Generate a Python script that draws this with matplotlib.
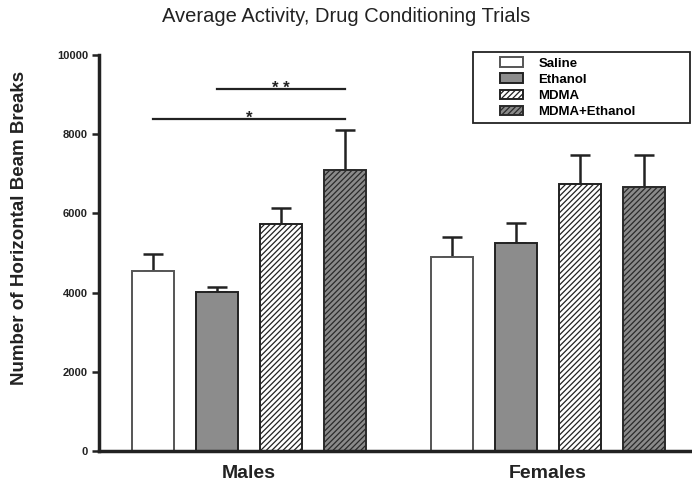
import numpy as np
import matplotlib
matplotlib.use('Agg')
import matplotlib.pyplot as plt
from matplotlib.patches import Rectangle
from matplotlib.legend_handler import HandlerPatch

groups = ['Males', 'Females']
conditions = ['Saline', 'Ethanol', 'MDMA', 'MDMA+Ethanol']
males_mean = [4550, 4010, 5740, 7100]
males_sem = [430, 140, 400, 1010]
females_mean = [4890, 5260, 6740, 6670]
females_sem = [510, 490, 740, 810]
# significance bars within Males: (from condition, to condition, height, label)
sig_from = [1, 0]
sig_to = [3, 3]
sig_height = [9130, 8390]
sig_label = ['* *', '*']

plt.rcParams['font.family'] = ['Liberation Sans', 'DejaVu Sans']
plt.rcParams['hatch.linewidth'] = 0.9

face = ['white', '#8c8c8c', 'white', '#8a8a8a']
hatch = [None, None, '//////', '//////']
hcol = ['#555555', '#222222', '#222222', '#2a2a2a']


def small_box(legend, orig_handle, xdescent, ydescent, width, height, fontsize):
    # legend swatch sits at the right end of the handle area
    return Rectangle((-xdescent + 0.49 * width, -ydescent), 0.51 * width, height)


fig = plt.figure(figsize=(6.92, 4.83), dpi=100)
ax = fig.add_axes([99 / 692, 32 / 483, 1 - 99 / 692, (451 - 55) / 483])

width = 0.66
group_gap = 1.67
means = [males_mean, females_mean]
sems = [males_sem, females_sem]
centers = []
handles = []
for g in range(len(groups)):
    xs = np.arange(len(conditions)) + g * (len(conditions) - 1 + group_gap)
    centers.append(xs.mean())
    for i, cond in enumerate(conditions):
        b = ax.bar(xs[i], means[g][i], width, color=face[i], edgecolor=hcol[i],
                   linewidth=1.4, hatch=hatch[i], zorder=2)
        if g == 0:
            handles.append(b[0])
        ax.errorbar(xs[i], means[g][i], yerr=[[0], [sems[g][i]]], fmt='none',
                    ecolor='#222222', elinewidth=1.8, capsize=7.5, capthick=1.8, zorder=1)
    if g == 0:
        male_x = xs

for a, b, h, lab in zip(sig_from, sig_to, sig_height, sig_label):
    ax.plot([male_x[a], male_x[b]], [h, h], color='#222222', lw=1.6, clip_on=False)
    ax.text((male_x[a] + male_x[b]) / 2, h - 170, lab, ha='center', va='bottom',
            fontsize=12, fontweight='bold', color='#222222')

ax.set_ylim(0, 10000)
ax.set_xlim(-0.84, 8.42)
ax.set_yticks([0, 2000, 4000, 6000, 8000, 10000])
ax.tick_params(axis='y', labelsize=8, width=1.8, length=5, pad=3, colors='#222222')
for t in ax.get_yticklabels():
    t.set_fontweight('bold')
ax.set_xticks(centers)
ax.set_xticklabels(groups, fontsize=14, fontweight='bold')
ax.tick_params(axis='x', length=0, pad=10, colors='#222222')
for s in ['top', 'right']:
    ax.spines[s].set_visible(False)
for s in ['left', 'bottom']:
    ax.spines[s].set_linewidth(2.5)
    ax.spines[s].set_color('#222222')

leg = ax.legend(handles, conditions, loc='upper left', mode='expand',
                bbox_to_anchor=(473 / 692, 1 - 128 / 483, 217 / 692, 76 / 483),
                bbox_transform=fig.transFigure, fancybox=False, framealpha=1,
                edgecolor='#222222', prop={'size': 9.5, 'weight': 'bold'},
                handlelength=3.4, handleheight=0.7, handletextpad=1.15,
                labelspacing=0.3, borderpad=0.4, borderaxespad=0,
                handler_map={Rectangle: HandlerPatch(patch_func=small_box)})
leg.get_frame().set_linewidth(1.3)

fig.text(0.5, 1 - 17 / 483, 'Average Activity, Drug Conditioning Trials',
         ha='center', va='center', fontsize=14.5, color='#222222')
fig.text(20 / 692, 1 - 228 / 483, 'Number of Horizontal Beam Breaks', rotation=90,
         ha='center', va='center', fontsize=13.5, fontweight='bold', color='#222222')

fig.savefig('out.png', dpi=100)
